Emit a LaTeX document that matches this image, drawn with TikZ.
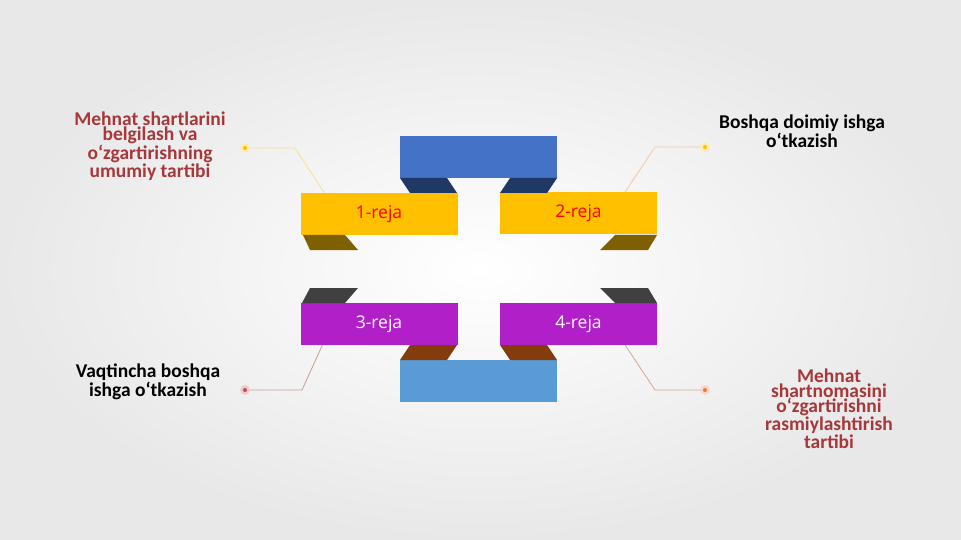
\documentclass[tikz,border=0pt]{standalone}
\usepackage{fontspec}
\setmainfont{Carlito}
\newfontfamily\osans{Open Sans}
\usetikzlibrary{positioning}

\definecolor{txtred}{RGB}{166,55,58}
\definecolor{yel}{RGB}{255,192,0}
\definecolor{dkyel}{RGB}{127,96,0}
\definecolor{blu}{RGB}{68,114,196}
\definecolor{dkblu}{RGB}{32,56,100}
\definecolor{pur}{RGB}{176,31,200}
\definecolor{dkgry}{RGB}{64,64,64}
\definecolor{brn}{RGB}{132,60,12}
\definecolor{ltblu}{RGB}{91,155,213}
\definecolor{dotred}{RGB}{192,80,77}
\definecolor{dotorg}{RGB}{230,120,70}
\definecolor{lnyel}{RGB}{245,225,150}
\definecolor{lnorg}{RGB}{245,200,160}
\definecolor{lnbrn}{RGB}{200,160,150}
\definecolor{lnpnk}{RGB}{210,170,150}

\begin{document}
\begin{tikzpicture}[x=1pt,y=-1pt,
    box/.style={minimum width=157pt,minimum height=42pt,inner sep=0pt,
      font=\osans\fontsize{17.5}{19}\selectfont},
    dot/.style={circle,inner sep=0pt,minimum size=7pt,fill=#1,draw=#1!30,line width=2.5pt},
    link/.style={draw=#1,line width=0.8pt},
    note/.style={align=center,inner sep=0pt,anchor=north,
      font=\bfseries\fontsize{19.5}{14.8}\selectfont}]
    \useasboundingbox (0,0) rectangle (961,540);
    \shade[inner color=white,outer color=black!9] (0,0) rectangle (961,540);

    % blocks
    \node[box,fill=blu] (top) at (478.5,157.5) {};
    \node[box,fill=yel,text=red] (r1) at (379,214) {1-reja};
    \node[box,fill=yel,text=red] (r2) at (578.5,213) {2-reja};
    \node[box,fill=pur,text=white] (r3) at (379,324) {3-reja};
    \node[box,fill=pur,text=white] (r4) at (578.5,324) {4-reja};
    \node[box,fill=ltblu] (bot) at (478.5,380.5) {};

    % feet
    \fill[dkblu] (400,178) -- (447,178) -- (457,193) -- (410,193) -- cycle;
    \fill[dkblu] (510,178) -- (557,178) -- (547,193) -- (500,193) -- cycle;
    \fill[dkyel] (303,235) -- (345,235) -- (358,250) -- (310,250) -- cycle;
    \fill[dkyel] (615,235) -- (657,235) -- (648,250) -- (600,250) -- cycle;
    \fill[dkgry] (310,288) -- (358,288) -- (345,303) -- (302,303) -- cycle;
    \fill[dkgry] (600,288) -- (648,288) -- (657,303) -- (615,303) -- cycle;
    \fill[brn] (410,345) -- (457,345) -- (447,360) -- (400,360) -- cycle;
    \fill[brn] (500,345) -- (547,345) -- (557,360) -- (510,360) -- cycle;

    % callouts
    \node[dot=yel] (d1) at (245,148) {};
    \node[dot=yel] (d2) at (705,147) {};
    \node[dot=dotred] (d3) at (245,390) {};
    \node[dot=dotorg] (d4) at (705,390) {};
    \coordinate (k1) at (295,148);
    \coordinate (k2) at (655,147);
    \coordinate (k3) at (302,390);
    \coordinate (k4) at (655,390);
    \coordinate (e1) at ([xshift=24pt]r1.north west);
    \coordinate (e2) at ([xshift=-32pt]r2.north east);
    \coordinate (e3) at ([xshift=22pt]r3.south west);
    \coordinate (e4) at ([xshift=-32pt]r4.south east);
    \path[link=lnyel] (d1) -- (k1) -- (e1);
    \path[link=lnorg] (d2) -- (k2) -- (e2);
    \path[link=lnbrn] (d3) -- (k3) -- (e3);
    \path[link=lnpnk] (d4) -- (k4) -- (e4);

    \node[note,text=txtred] (t1) at (150,112) {Mehnat shartlarini\\belgilash va\\o‘zgartirishning\\umumiy tartibi};
    \node[note] (t2) at (802,115) {Boshqa doimiy ishga\\o‘tkazish};
    \node[note] (t3) at (148,364) {Vaqtincha boshqa\\ishga o‘tkazish};
    \node[note,text=txtred] (t4) at (829,369) {Mehnat\\shartnomasini\\o‘zgartirishni\\rasmiylashtirish\\tartibi};
  \end{tikzpicture}
\end{document}
